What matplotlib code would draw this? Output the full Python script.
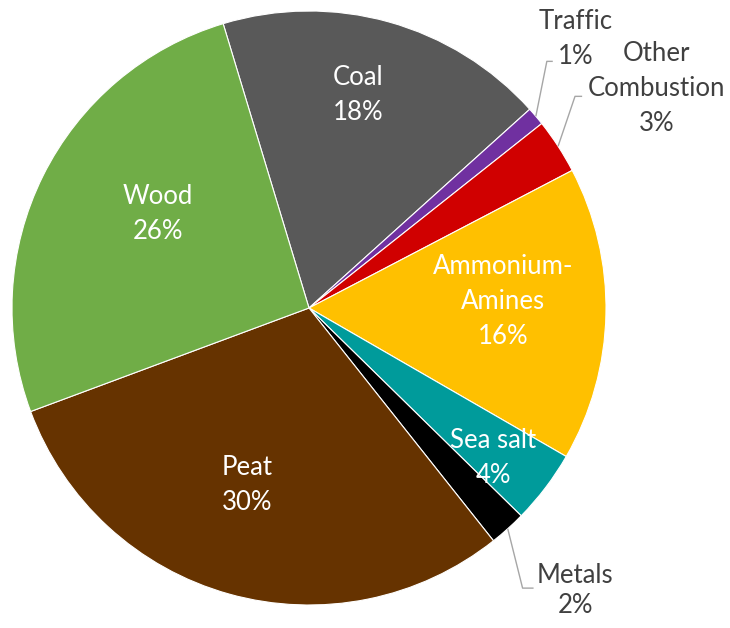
import numpy as np
import matplotlib
matplotlib.use("Agg")
import matplotlib.pyplot as plt

plt.rcParams['font.family'] = ['Lato', 'DejaVu Sans']

# ---- data ----
categories = ["Coal", "Traffic", "Other\nCombustion", "Ammonium-\nAmines",
              "Sea salt", "Metals", "Peat", "Wood"]
shares = [18, 1, 3, 16, 4, 2, 30, 26]
colors = ["#595959", "#7030A0", "#D00000", "#FFC000",
          "#009B9B", "#000000", "#663300", "#70AD47"]

# ---- styling / placement ----
START = 106.8
inside_style = {  # label: (radius, angle shift in degrees)
    "Coal": (0.736, 2.7),
    "Ammonium-\nAmines": (0.654, 3.1),
    "Sea salt": (0.80, -2.0),
    "Peat": (0.63, -3.7),
    "Wood": (0.60, -5.5),
}
# outside labels: elbow offset from wedge edge, horizontal run, text offset from line end, line step (px)
outside_style = {
    "Traffic": dict(elbow=(0.037, 0.185), run=0.02, text=(0.077, 0.075), step=35),
    "Other\nCombustion": dict(elbow=(0.057, 0.168), run=0.024, text=(0.25, 0.025), step=35),
    "Metals": dict(elbow=(0.05, -0.20), run=0.037, text=(0.14, -0.007), step=30),
}

W, H = 730, 628
CX, CY, R = 309, 308, 297
FS = 18.5

fig = plt.figure(figsize=(W / 100, H / 100), dpi=100)
ax = fig.add_axes([0, 0, 1, 1])

wedges, _ = ax.pie(shares, colors=colors, startangle=START, counterclock=False,
                   radius=1.0, center=(0, 0), frame=True,
                   wedgeprops=dict(edgecolor="white", linewidth=0.8))
ax.set_xlim((0 - CX) / R, (W - CX) / R)
ax.set_ylim((CY - H) / R, (CY - 0) / R)
ax.axis("off")


def block(x, y, lines, color, step_px=35):
    step = step_px / R
    n = len(lines)
    for i, line in enumerate(lines):
        yy = y + (n - 1) / 2 * step - i * step
        ax.text(x, yy, line, color=color, fontsize=FS, ha="center", va="center")


total = sum(shares)
for w, cat, val in zip(wedges, categories, shares):
    mid = (w.theta1 + w.theta2) / 2.0
    lines = cat.split("\n") + [f"{val / total * 100:.0f}%"]
    if cat in inside_style:
        r, dth = inside_style[cat]
        a = np.deg2rad(mid + dth)
        block(r * np.cos(a), r * np.sin(a), lines, "white")
    else:
        st = outside_style[cat]
        a0 = np.deg2rad(mid)
        x0, y0 = np.cos(a0), np.sin(a0)
        ex, ey = x0 + st["elbow"][0], y0 + st["elbow"][1]
        x2 = ex + st["run"]
        ax.plot([x0, ex, x2], [y0, ey, ey], color="#A6A6A6", lw=1.0,
                solid_capstyle="butt")
        tx, ty = st["text"]
        block(x2 + tx, ey + ty, lines, "#404040", st["step"])

fig.savefig("out.png", dpi=100, facecolor="white")
